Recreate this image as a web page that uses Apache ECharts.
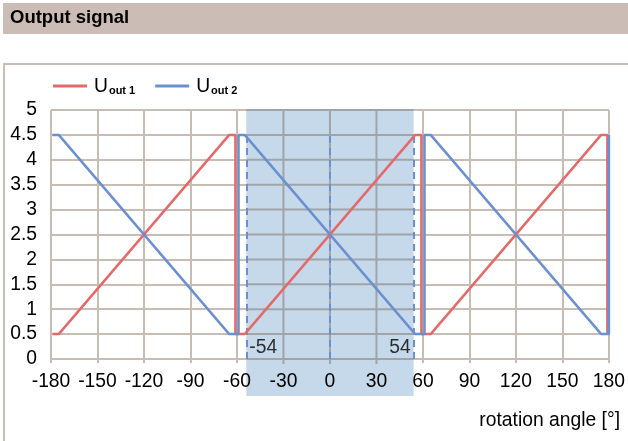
<!DOCTYPE html>
<html><head><meta charset="utf-8">
<script src="https://cdn.jsdelivr.net/npm/echarts@6/dist/echarts.min.js"></script>
<style>html,body{margin:0;padding:0;background:#fff}#c{width:628px;height:441px}</style>
</head><body><div id="c"></div>
<script>
// ---- data ----
const xTickValues = [-180,-150,-120,-90,-60,-30,0,30,60,90,120,150,180];
const yTickValues = [0,0.5,1,1.5,2,2.5,3,3.5,4,4.5,5];
const uout1 = [[-179,0.5],[-175,0.5],[-65,4.5],[-61,4.5],[-61,0.5],[-55,0.5],[55,4.5],[59,4.5],[59,0.5],[65,0.5],[175,4.5],[179,4.5],[179,0.5]];
const uout2 = [[-179,4.5],[-175,4.5],[-65,0.5],[-59,0.5],[-59,4.5],[-55,4.5],[55,0.5],[61,0.5],[61,4.5],[65,4.5],[175,0.5],[180,0.5],[180,4.5]];
const activeRange = [-54, 54];
const guideLines = [-54, 0, 54];
const guideTop = 4.5;
const rangeLabels = [-54, 54];
const seriesNames = ['Uout 1', 'Uout 2'];

// ---- styles ----
const FONT = "'Liberation Sans', Arial, sans-serif";
const FS = 19.3;
const RED = '#e46a6a', BLUE = '#6b90d0', GRID = '#c9bcb3', SHADE = '#c6d9eb', SHADE_GRID = '#a0a4a8';
const xMin = xTickValues[0], xMax = xTickValues[xTickValues.length-1];
const yMin = yTickValues[0], yMax = yTickValues[yTickValues.length-1];

const chart = echarts.init(document.getElementById('c'), null, {renderer:'canvas'});
chart.setOption({
  animation: false,
  textStyle: {fontFamily: FONT},
  graphic: [
    {type:'rect', z:-10, shape:{x:3, y:3, width:640, height:31}, style:{fill:'#cbbdb5'}},
    {type:'text', z:-9, left:10, top:8, style:{text:'Output signal', font:"bold 18.5px 'Liberation Sans', Arial", fill:'#000'}},
    {type:'rect', z:-10, shape:{x:4, y:64, width:700, height:500}, style:{fill:'none', stroke:GRID, lineWidth:2}}
  ],
  title: {text:'rotation angle [°]', right:3, top:406, textStyle:{fontSize:FS, fontWeight:'normal', color:'#000', fontFamily:FONT}},
  legend: {
    left: 48, top: 72, itemWidth: 34, itemHeight: 3, itemGap: 20, icon: 'rect',
    data: seriesNames,
    formatter: n => '{u|U}{s|' + n.slice(1) + '}',
    textStyle: {
      color:'#000', padding:[0,0,0,2],
      rich: {
        u: {fontSize:FS, fontFamily:FONT, color:'#000', verticalAlign:'bottom', lineHeight:20},
        s: {fontSize:11, fontWeight:'bold', fontFamily:FONT, color:'#000', verticalAlign:'bottom', lineHeight:20, padding:[0,0,0,1]}
      }
    }
  },
  grid: {left:51, right:19, top:110, bottom:82, containLabel:false},
  xAxis: [
    {type:'value', min:xMin, max:xMax, interval:30, z:0,
     axisLine:{show:true, lineStyle:{color:GRID, width:2}},
     axisTick:{show:true, length:4, lineStyle:{color:GRID, width:2}},
     axisLabel:{show:false},
     splitLine:{show:true, lineStyle:{color:GRID, width:2}}},
    {type:'value', min:xMin, max:xMax, interval:30, z:5, position:'bottom',
     axisLine:{show:false}, axisTick:{show:false}, splitLine:{show:false},
     axisLabel:{show:true, margin:13, fontSize:FS, color:'#000', fontFamily:FONT}}
  ],
  yAxis: {type:'value', min:yMin, max:yMax, interval:0.5, z:0,
    axisLine:{show:true, lineStyle:{color:GRID, width:2}},
    axisTick:{show:true, length:8, lineStyle:{color:GRID, width:2}},
    axisLabel:{margin:14, fontSize:FS, color:'#000', fontFamily:FONT},
    splitLine:{show:true, lineStyle:{color:GRID, width:2}}},
  series: [
    {type:'custom', name:'active', z:1, silent:true, clip:false, xAxisIndex:0,
     data:[activeRange],
     renderItem: (params, api) => {
       const tl = api.coord([activeRange[0], yMax]);
       const br = api.coord([activeRange[1], yMin]);
       const kids = [{type:'rect', shape:{x:tl[0], y:tl[1]-1, width:br[0]-tl[0], height:br[1]-tl[1]+38}, style:{fill:SHADE}}];
       yTickValues.forEach(v => {
         const a = api.coord([activeRange[0], v]), b = api.coord([activeRange[1], v]);
         kids.push({type:'line', shape:{x1:a[0], y1:a[1], x2:b[0], y2:b[1]}, style:{stroke:SHADE_GRID, lineWidth:2}});
       });
       xTickValues.filter(v => v > activeRange[0] && v < activeRange[1]).forEach(v => {
         const a = api.coord([v, yMax]), b = api.coord([v, yMin]);
         kids.push({type:'line', shape:{x1:a[0], y1:a[1]-1, x2:b[0], y2:b[1]+5}, style:{stroke:SHADE_GRID, lineWidth:2}});
       });
       return {type:'group', children:kids};
     }},
    {type:'line', name:seriesNames[0], data:uout1, showSymbol:false, symbol:'none', z:3,
     color:RED, lineStyle:{color:RED, width:2.5}},
    {type:'line', name:seriesNames[1], data:uout2, showSymbol:false, symbol:'none', z:3,
     color:BLUE, lineStyle:{color:BLUE, width:2.5},
     markLine:{silent:true, symbol:'none', label:{show:false}, z:2,
       lineStyle:{color:BLUE, width:2, type:[7,5]},
       data: guideLines.map(x => [{coord:[x, yMin]}, {coord:[x, guideTop]}])}},
    {type:'scatter', name:'rangeLabels', symbolSize:0, z:4, silent:true,
     data: rangeLabels.map(v => ({value:[v, yMin], label:{align: v < 0 ? 'left' : 'right', offset:[v < 0 ? 3 : -3, -11]}})),
     label:{show:true, position:[0,0], verticalAlign:'middle', formatter: p => String(p.value[0]), fontSize:FS, color:'#000', fontFamily:FONT}}
  ]
});
</script>
</body></html>
